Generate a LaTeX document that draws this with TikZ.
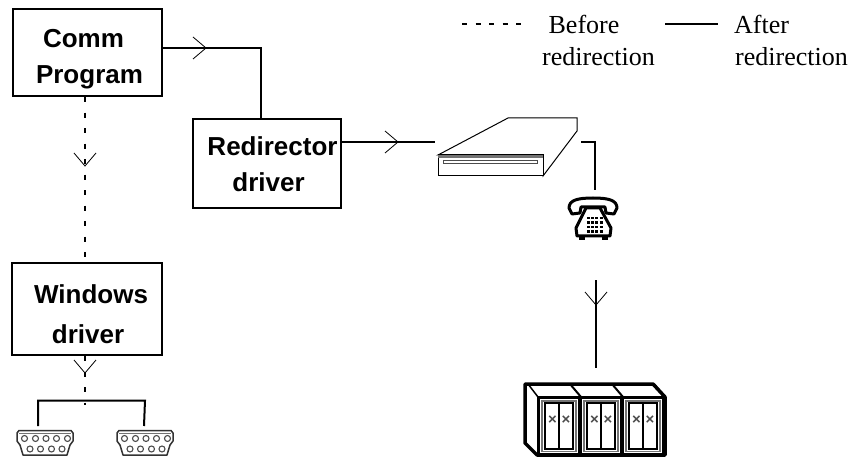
\documentclass[tikz,border=0pt]{standalone}
\usepackage{fontspec}
\setmainfont{Liberation Serif}
\setsansfont{Liberation Sans}
\usetikzlibrary{calc}
\tikzset{
  x=1pt,y=-1pt,
  boxnode/.style={draw=black,line width=2.2pt,inner sep=0pt,anchor=north west},
  boxtext/.style={inner sep=0pt,font=\sffamily\bfseries\fontsize{26}{36}\selectfont,align=center},
  wire/.style={line width=2pt,line cap=butt},
  dwire/.style={line width=2.2pt,dash pattern=on 5pt off 10.5pt},
  veehead/.style={line width=0.8pt},
  legendtext/.style={font=\fontsize{26}{33}\selectfont,align=center,inner sep=0pt},
  dev/.style={line width=1pt,draw=black,fill=white},
}
\newcommand{\veeat}[2]{\draw[veehead,rotate around={#2:(#1)}] ($(#1)+(-13,-11)$) -- (#1) -- ($(#1)+(-13,11)$);}
\begin{document}
\begin{tikzpicture}
\useasboundingbox (0,0) rectangle (857,457);
% boxes
\node[boxnode,minimum width=149pt,minimum height=87pt] (comm) at (12,8) {};
\node[boxnode,minimum width=148pt,minimum height=89pt] (redir) at (192,118) {};
\node[boxnode,minimum width=150pt,minimum height=92pt] (win) at (11,262) {};
\node[boxtext] (commt) at (89.5,59) {\hspace*{-12pt}Comm\\Program};
\node[boxtext] (redirt) at (272.5,164.5) {Redirector\\\hspace*{-8pt}driver};
\node[boxtext,font=\sffamily\bfseries\fontsize{26}{40}\selectfont] (wint) at (91,314) {Windows\\\hspace*{-6pt}driver};
% named coordinates
\coordinate (ca) at (206,48);
\coordinate (cb) at (398,142);
\coordinate (cd) at (85,166);
\coordinate (ce) at (85,373);
\coordinate (cf) at (596,305);
\coordinate (modemin) at (435,142);
\coordinate (modemout) at (581,142);
\coordinate (phonetop) at (595,190);
\coordinate (phonebot) at (596,280);
\coordinate (srvtop) at (596,368);
\coordinate (forkend) at (85,405);
\coordinate (fl) at (38,400.5);
\coordinate (fr) at (145,400.5);
\coordinate (dl) at (38,426);
\coordinate (dr) at (144,426);
% connectors
\draw[wire] (comm.east |- ca) -- (261,48) -- (261,118);
\draw[wire] (redir.east |- cb) -- (modemin);
\draw[wire] (modemout) -- (595,142) -- (phonetop);
\draw[wire] (phonebot) -- (srvtop);
\draw[dwire] (comm.south -| cd) -- (win.north -| cd);
\draw[dwire] (win.south -| ce) -- (forkend);
\draw[wire] (dl) -- (fl) -- (fr) -- (dr);
\veeat{ca}{0}
\veeat{cb}{0}
\veeat{cf}{-90}
\veeat{cd}{-90}
\veeat{ce}{-90}
% legend
\coordinate (lda) at (462,24); \coordinate (ldb) at (525,24);
\coordinate (lsa) at (665,24); \coordinate (lsb) at (718,24);
\draw[line width=2pt,dash pattern=on 5pt off 8.5pt] (lda) -- (ldb);
\draw[line width=2pt] (lsa) -- (lsb);
\node[legendtext] (before) at (584,24) {Before};
\node[legendtext] (bredir) at (598.5,57) {redirection};
\node[legendtext,anchor=west] (after) at (734,24) {After};
\node[legendtext] (aredir) at (791.5,57) {redirection};
% modem
\draw[dev] (438,155) -- (508,118) -- (577,118) -- (577,131) -- (543,176) -- (543,155) -- cycle;
\draw[dev] (438,155) rectangle (543,176);
\fill[black!55] (438,155) rectangle (543,158);
\draw[line width=1pt,draw=black!70,fill=white] (443,160.5) rectangle (537,164);
% phone
\draw[line width=3pt,fill=white,line join=round]
  (572,214) -- (569,208) .. controls (569,200) and (578,198) .. (593,198)
  .. controls (608,198) and (617,200) .. (617,208) -- (614,214) -- (606,213) -- (605,207) -- (581,207) -- (580,213) -- cycle;
\draw[line width=3pt,fill=white,line join=round]
  (586,208) -- (600,208) -- (611,228) -- (610,236) -- (577,236) -- (576,228) -- cycle;
\fill (579,236) rectangle (585,240);
\fill (602,236) rectangle (608,240);
\foreach \yy in {218,222.5,227,231.5}
  \draw[line width=2.2pt,dash pattern=on 3pt off 1.2pt] (587,\yy) -- (603,\yy);
% servers
\draw[line width=3.5pt,fill=white,line join=round]
  (525,384) -- (653,384) -- (665,397) -- (665,455) -- (537,455) -- (525,443) -- cycle;
\draw[line width=1.5pt] (528,384) -- (538,397);
\foreach \dx in {0,42,84}{
  \begin{scope}[xshift=\dx pt]
   \draw[line width=2pt] (570,384) -- (581,397);
   \draw[line width=3.5pt,fill=white] (538.5,397.5) rectangle (579.5,455);
   \draw[line width=1.2pt,draw=black!55] (542,401) rectangle (576,451.5);
   \draw[line width=2.2pt] (545,403) rectangle (573,449);
   \draw[line width=2.2pt] (559,403) -- (559,449);
   \node[font=\sffamily\bfseries\fontsize{15}{15}\selectfont,inner sep=0pt,text=black!70] (xa\dx) at (552.5,420.5) {×};
   \node[font=\sffamily\bfseries\fontsize{15}{15}\selectfont,inner sep=0pt,text=black!70] (xb\dx) at (566,420.5) {×};
  \end{scope}
}
% dsub connectors
\foreach \dx/\nm in {0/a,100/b}{
 \begin{scope}[xshift=\dx pt]
  \draw[line width=1.5pt,draw=black!80,fill=white,line join=round]
    (19,430.5) -- (71,430.5) -- (73,433) -- (73,441) -- (70,445) -- (67,455) -- (23,455) -- (20,445) -- (17,441) -- (17,433) -- cycle;
  \draw[line width=1pt,draw=black!55] (19,433) -- (71,433);
  \foreach \hx in {24.5,35.5,46,56.5,67.5}
    \draw[line width=1.1pt,draw=black!70] (\hx,438.5) circle (3);
  \foreach \hx in {30,40.5,51.5,62}
    \draw[line width=1.1pt,draw=black!70] (\hx,449) circle (3);
 \end{scope}
}
\end{tikzpicture}
\end{document}
